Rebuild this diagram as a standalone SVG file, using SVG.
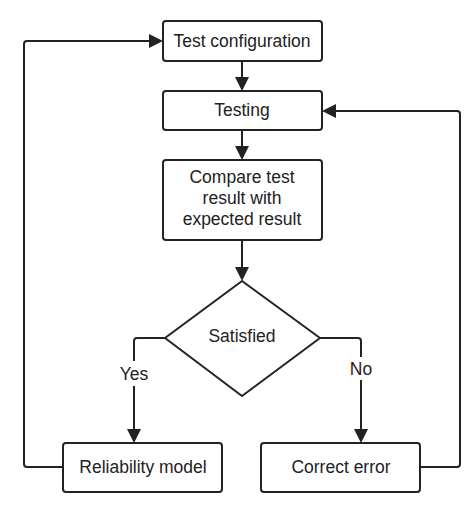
<svg xmlns="http://www.w3.org/2000/svg" width="474" height="506" viewBox="0 0 474 506">
<defs>
<style>
.box{fill:#fff;stroke:#222;stroke-width:2}
.t{font-family:"Liberation Sans",Arial,sans-serif;font-size:17.5px;fill:#222;text-anchor:middle}
.c{fill:none;stroke:#222;stroke-width:2;stroke-linejoin:round}
.ah{fill:#222}
.lbl{fill:#fff}
</style>
</defs>
<rect width="474" height="506" fill="#fff"/>
<g id="connectors">
<path class="c" d="M242,61 V77"/>
<path class="ah" d="M235,77 L249,77 L242,91 Z"/>
<path class="c" d="M242,130 V146"/>
<path class="ah" d="M235,146 L249,146 L242,160 Z"/>
<path class="c" d="M242,240 V267"/>
<path class="ah" d="M235,267 L249,267 L242,281 Z"/>
<path class="c" d="M165,338 H137 Q134,338 134,341 V429"/>
<path class="ah" d="M127,429 L141,429 L134,443 Z"/>
<path class="c" d="M320,338 H358 Q361,338 361,341 V429"/>
<path class="ah" d="M354,429 L368,429 L361,443 Z"/>
<path class="c" d="M63,467 H27 Q24,467 24,464 V44 Q24,41 27,41 H149"/>
<path class="ah" d="M149,34 L149,48 L163,41 Z"/>
<path class="c" d="M420,467 H457 Q460,467 460,464 V114 Q460,111 457,111 H336"/>
<path class="ah" d="M336,104 L336,118 L322,111 Z"/>
<rect class="lbl" x="117" y="361" width="34" height="25"/>
<text class="t" x="134" y="380">Yes</text>
<rect class="lbl" x="347" y="357" width="28" height="23"/>
<text class="t" x="361" y="375">No</text>
</g>
<g id="n1">
<rect class="box" x="163" y="21" width="159" height="40" rx="3"/>
<text class="t" x="242" y="47">Test configuration</text>
</g>
<g id="n2">
<rect class="box" x="163" y="91" width="159" height="39" rx="3"/>
<text class="t" x="242" y="116">Testing</text>
</g>
<g id="n3">
<rect class="box" x="163" y="160" width="159" height="80" rx="3"/>
<text class="t" x="242" y="183">Compare test</text>
<text class="t" x="242" y="204">result with</text>
<text class="t" x="242" y="225">expected result</text>
</g>
<g id="n4">
<path class="box" d="M242,281 L320,338 L242,396 L165,338 Z" stroke-linejoin="round"/>
<text class="t" x="242" y="342">Satisfied</text>
</g>
<g id="n5">
<rect class="box" x="63" y="443" width="159" height="49" rx="3"/>
<text class="t" x="143" y="473">Reliability model</text>
</g>
<g id="n6">
<rect class="box" x="261" y="443" width="159" height="49" rx="3"/>
<text class="t" x="341" y="473">Correct error</text>
</g>
</svg>
